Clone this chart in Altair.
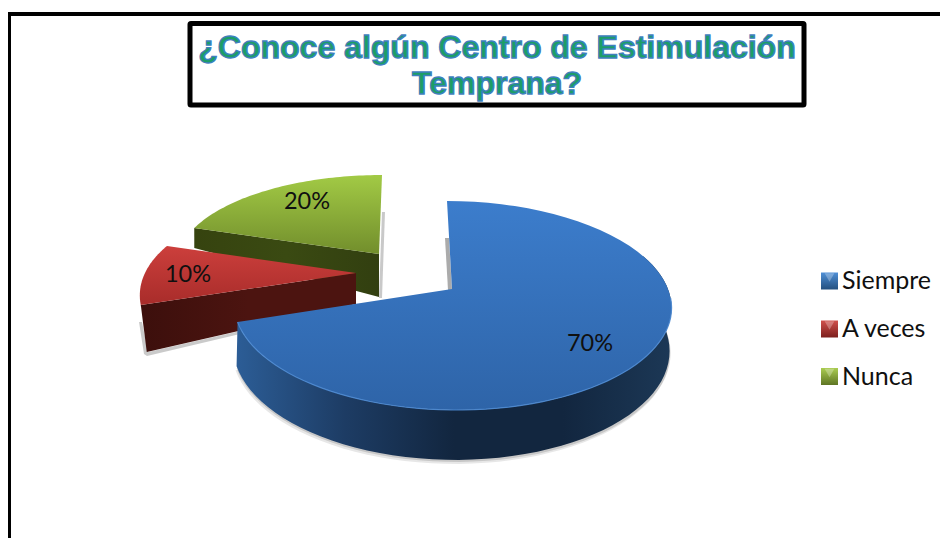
import math
import altair as alt
import pandas as pd

# ---- chart content
categories = ["Siempre", "A veces", "Nunca"]
shares = [70, 10, 20]
labels = ["70%", "10%", "20%"]
title_lines = ["¿Conoce algún Centro de Estimulación", "Temprana?"]

# ---- 3-D look of every slice (apex, perspective, radius, shear, wall heights)
look = {
    "Siempre": dict(ax=452, ay=289, a=101.9, b=0.158, R=216, s=-5, rim=42, apex=0, dx=2),
    "A veces": dict(ax=356, ay=273, a=94.8, b=0.274, R=211, s=-13, rim=47, apex=31, dx=6),
    "Nunca": dict(ax=379, ay=254, a=86.6, b=0.096, R=201, s=3, rim=20, apex=43, dx=0),
}
top_fill = {
    "Siempre": ["#3c7dcc", "#2e64a8"],
    "A veces": ["#cc3f3c", "#a82c2a"],
    "Nunca": ["#a2ca45", "#728e2c"],
}
wall_fill = {
    "Siempre": ["#2c5d96", "#1d3c64", "#12263f", "#12263f", "#1c3856"],
    "A veces": ["#3c0f0c", "#4c1410", "#4c1410"],
    "Nunca": ["#36430f", "#3a4a12", "#323f10"],
}
legend_fill = {"Siempre": ["#4f8fd6", "#24507f"], "A veces": ["#d0504c", "#7c1f1d"], "Nunca": ["#aacc50", "#5e7524"]}
legend_y = [281, 329, 376.5]
label_pos = [(590, 344), (188, 275), (307, 202)]

W, H = 932, 530
x_scale = alt.Scale(domain=[8, 940], range=[0, W], nice=False, zero=False)
y_scale = alt.Scale(domain=[8, 538], range=[0, H], nice=False, zero=False)
X = lambda f="x": alt.X(f"{f}:Q", scale=x_scale, axis=None)
Y = lambda f="y": alt.Y(f"{f}:Q", scale=y_scale, axis=None)


def project(cat, theta, drop=0.0):
    p = look[cat]
    d, sn = math.cos(theta), math.sin(theta)
    k = 1 + p["b"] * d
    return p["ax"] + p["R"] * sn / k + p["s"] * d, p["ay"] + (drop - p["a"] * d) / k


def rim(cat, t0, t1, drop=0.0, n=60):
    return [project(cat, t0 + (t1 - t0) * i / n, drop) for i in range(n + 1)]


def grad(colors, horizontal=False):
    n = len(colors) - 1
    stops = [alt.GradientStop(color=c, offset=i / n) for i, c in enumerate(colors)]
    if horizontal:
        return alt.Gradient(gradient="linear", stops=stops, x1=0, x2=1, y1=0, y2=0)
    return alt.Gradient(gradient="linear", stops=stops, x1=0, x2=0, y1=0, y2=1)


def poly(points, **mark):
    df = pd.DataFrame(points, columns=["x", "y"])
    df["i"] = range(len(df))
    mark.setdefault("strokeWidth", 0)
    return alt.Chart(df).mark_line(interpolate="linear-closed", **mark).encode(
        x=X(), y=Y(), order=alt.Order("i:Q")
    )


# cumulative angles, clockwise from the top
angles = {}
start = 0.0
for c, v in zip(categories, shares):
    end = start + v / sum(shares) * 2 * math.pi
    angles[c] = (start, end)
    start = end

layers = []

# outer frame
frame = pd.DataFrame({"x": [8, 8], "x2": [940, 11], "y": [12, 12], "y2": [16, 538]})
layers.append(
    alt.Chart(frame).mark_rect(color="#000000").encode(
        x=X(), x2="x2:Q", y=Y(), y2="y2:Q"
    )
)

# shadows
a0, a1 = angles["Siempre"]
blue_low = rim("Siempre", math.radians(70), a1, look["Siempre"]["rim"])
for off, op in [(2, 0.22), (4, 0.14)]:
    layers.append(poly([(x - off / 2, y + off) for x, y in blue_low], fill="#555555", opacity=op))
layers.append(poly([(445, 238), (449, 238), (452, 290), (448, 290)], fill="#666666", opacity=0.55))
layers.append(poly([(382, 212), (385, 212), (382, 298), (379, 298)], fill="#777777", opacity=0.4))
layers.append(poly([(139, 322), (142, 322), (148, 352), (240, 331), (240, 334), (147, 356), (144, 354)],
                   fill="#666666", opacity=0.35))

# green then red then blue
for cat in ["Nunca", "A veces", "Siempre"]:
    p = look[cat]
    t0, t1 = angles[cat]
    if cat == "Siempre":
        t = rim(cat, math.radians(70), t1)
        low = rim(cat, math.radians(70), t1, p["rim"])
        low = [(x - (1 if x < p["ax"] else 2), y) for x, y in low]
        layers.append(poly(t + low[::-1], fill=grad(wall_fill[cat], True)))
    else:
        qa = project(cat, t0)
        layers.append(
            poly(
                [(p["ax"], p["ay"]), qa,
                 (qa[0] + p["dx"], qa[1] + p["rim"]),
                 (p["ax"], p["ay"] + p["apex"])],
                fill=grad(wall_fill[cat], True),
            )
        )
    arc = rim(cat, t0, t1)
    layers.append(poly([(p["ax"], p["ay"])] + arc, fill=grad(top_fill[cat])))
    if cat == "Siempre":
        layers.append(
            alt.Chart(pd.DataFrame(rim(cat, math.radians(95), t1), columns=["x", "y"]).assign(i=lambda d: d.index))
            .mark_line(color="#4d8ad2", strokeWidth=1.2, opacity=0.9)
            .encode(x=X(), y=Y(), order=alt.Order("i:Q"))
        )

# pie labels
lab = pd.DataFrame({"t": labels, "x": [q[0] for q in label_pos], "y": [q[1] for q in label_pos]})
layers.append(
    alt.Chart(lab).mark_text(font="Lato", fontSize=23.5, color="#101010", align="center", baseline="middle")
    .encode(x=X(), y=Y(), text="t:N")
)

# legend
leg = pd.DataFrame({"c": categories, "x": [829.5] * 3, "tx": [842] * 3, "y": legend_y})
for cat, yy in zip(categories, legend_y):
    one = leg[leg.c == cat]
    layers.append(
        alt.Chart(one).mark_point(shape="square", size=289, filled=True, fill=grad(legend_fill[cat]), opacity=1)
        .encode(x=X(), y=Y())
    )
    layers.append(
        alt.Chart(one.assign(y=yy - 3.5)).mark_point(shape="triangle-down", size=95, filled=True, fill="#ffffff", opacity=0.28)
        .encode(x=X(), y=Y())
    )
layers.append(
    alt.Chart(leg).mark_text(font="Lato", fontSize=25, color="#101010", align="left", baseline="middle")
    .encode(x=X("tx"), y=Y(), text="c:N")
)

# title box
box = pd.DataFrame({"x": [190], "x2": [804], "y": [23.5], "y2": [105]})
layers.append(
    alt.Chart(box).mark_rect(fill="#ffffff", stroke="#000000", strokeWidth=5, cornerRadius=1)
    .encode(x=X(), x2="x2:Q", y=Y(), y2="y2:Q")
)
ttl = pd.DataFrame({"t": title_lines, "x": [497, 497], "y": [58, 94]})
layers.append(
    alt.Chart(ttl).mark_text(
        font="Liberation Sans", fontWeight="bold", fontSize=32, fill="#1c9e66",
        stroke="#3f7fbe", strokeWidth=1.3, align="center", baseline="alphabetic",
    ).encode(x=X(), y=Y(), text="t:N")
)

chart = (
    alt.layer(*layers)
    .properties(width=W, height=H, padding=0, background="#ffffff")
    .configure_view(stroke=None)
)
chart.save("out.html", embed_options={"renderer": "svg", "actions": False})
